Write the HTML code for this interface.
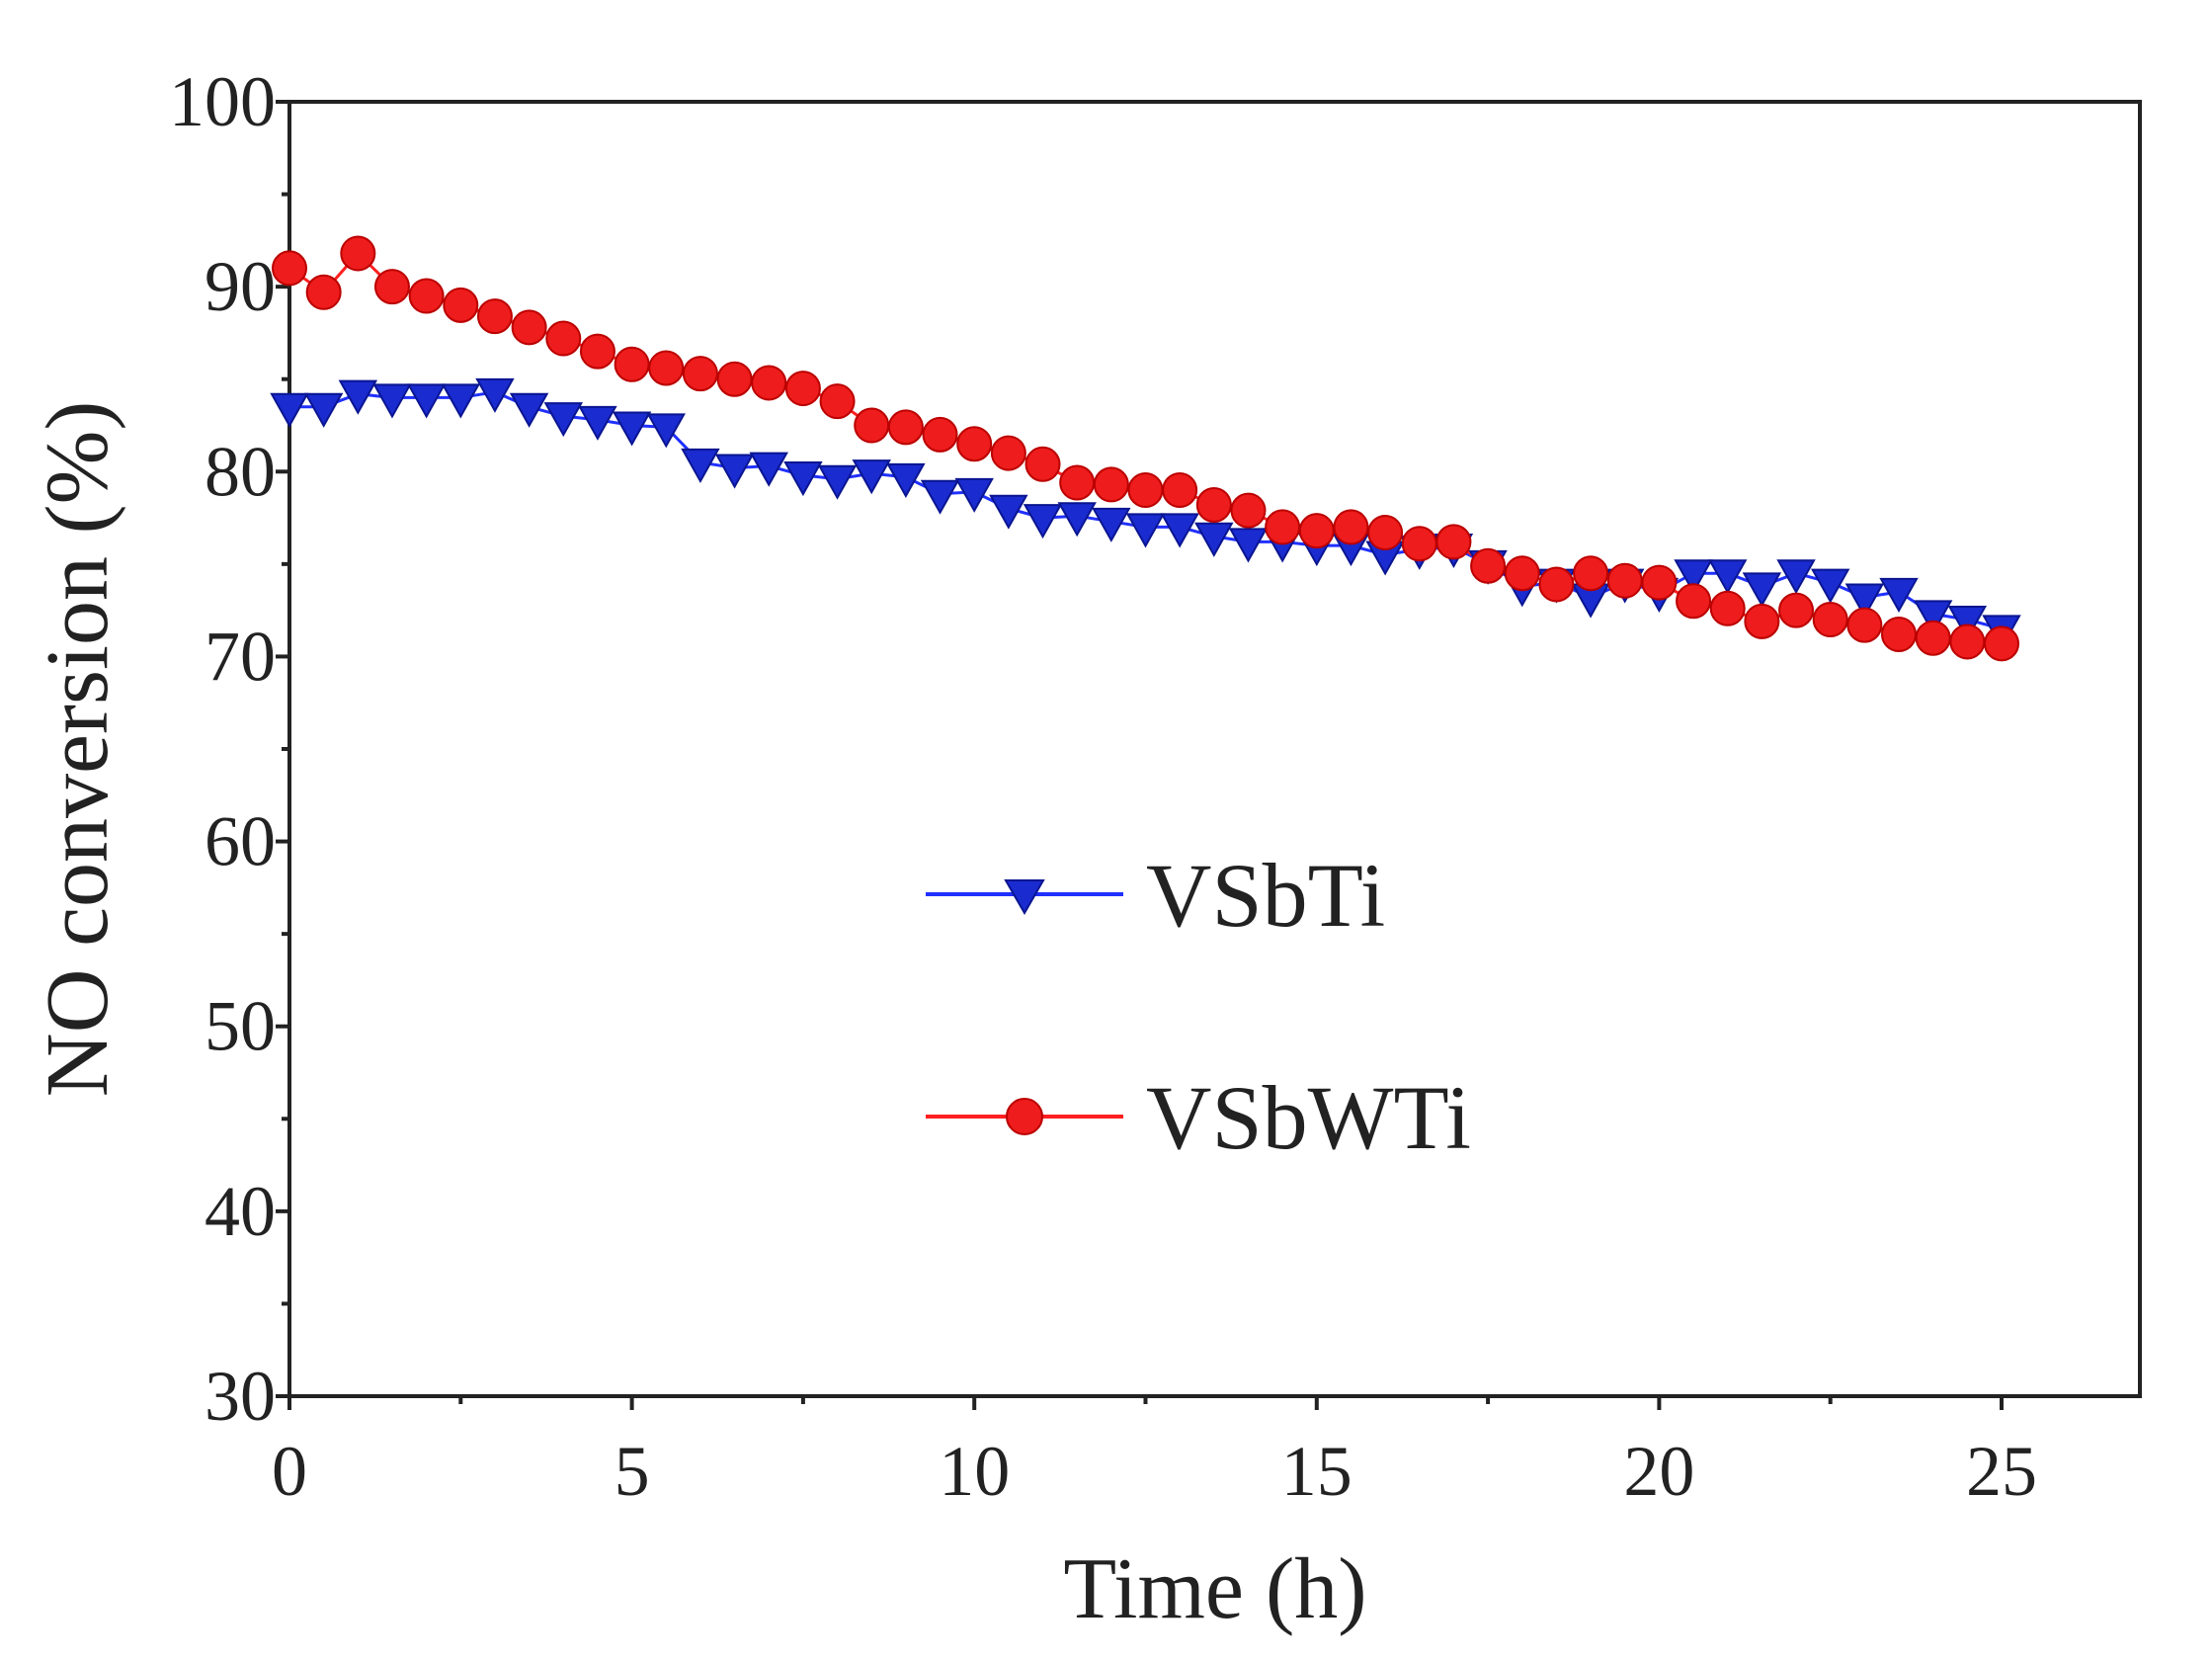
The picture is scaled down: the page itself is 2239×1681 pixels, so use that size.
<!DOCTYPE html>
<html><head><meta charset="utf-8"><style>
html,body{margin:0;padding:0;background:#fff;}
svg text{font-family:"Liberation Serif",serif;fill:#222;}
</style></head><body>
<svg id="chart" width="2239" height="1676" xmlns="http://www.w3.org/2000/svg">
<g id="axes"></g><g id="series"></g>
<g>
<line x1="937" y1="905" x2="1137" y2="905" stroke="#2030ff" stroke-width="4"/>
<path d="M1018,891 L1056,891 L1037,924 Z" fill="#1a2bd0" stroke="#0a1590" stroke-width="2"/>
<text x="1160" y="937" font-size="92">VSbTi</text>
<line x1="937" y1="1130" x2="1137" y2="1130" stroke="#ff2020" stroke-width="4"/>
<circle cx="1037" cy="1130" r="18" fill="#ee1c1c" stroke="#b00" stroke-width="2"/>
<text x="1160" y="1162" font-size="92">VSbWTi</text>
</g>
<text x="0" y="0" font-size="90" text-anchor="middle" transform="translate(108,758) rotate(-90)">NO conversion (%)</text>
<text x="1230" y="1637" font-size="88" text-anchor="middle">Time (h)</text>
</svg>
<script>
const times=[];for(let i=0;i<=50;i++)times.push(i*0.5);
const vsbti=[83.5,83.5,84.2,84,84,84,84.3,83.5,83,82.8,82.5,82.4,80.5,80.2,80.3,79.8,79.6,79.9,79.7,78.8,78.9,78,77.5,77.6,77.3,77,77,76.5,76.2,76.2,76,76,75.5,75.8,75.9,75,73.8,74,73.2,74,73.5,74.5,74.5,73.8,74.5,74,73.2,73.5,72.3,72,71.5];
const vsbwti=[91,89.7,91.8,90,89.5,89,88.4,87.8,87.2,86.5,85.8,85.6,85.3,85,84.8,84.5,83.8,82.5,82.4,82,81.5,81,80.4,79.4,79.3,79,79,78.2,77.9,77,76.8,77,76.7,76.1,76.2,74.9,74.5,73.9,74.5,74.1,74,73,72.6,71.9,72.5,72,71.7,71.2,71,70.8,70.7];
const xTicks=[0,5,10,15,20,25];
const yTicks=[30,40,50,60,70,80,90,100];
const L=293,R=2166,T=103,B=1413;
const xs=v=>L+v*(2026-L)/25;
const ys=v=>B-(v-30)*(B-T)/70;
const NS='http://www.w3.org/2000/svg';
function mk(tag,attrs,parent){const e=document.createElementNS(NS,tag);for(const k in attrs)e.setAttribute(k,attrs[k]);parent.appendChild(e);return e;}
const ax=document.getElementById('axes'),se=document.getElementById('series');
const frame=mk('rect',{x:L,y:T,width:R-L,height:B-T,fill:'none',stroke:'#222','stroke-width':4},ax);


for(let v=30;v<=100;v+=5){const maj=v%10===0;mk('line',{x1:L,y1:ys(v),x2:L-(maj?14:8),y2:ys(v),stroke:'#222','stroke-width':4},ax);}
for(let v=0;v<=25;v+=2.5){const maj=v%5===0;mk('line',{x1:xs(v),y1:B,x2:xs(v),y2:B+(maj?14:8),stroke:'#222','stroke-width':4},ax);}
yTicks.forEach(v=>{const t=mk('text',{x:L-14,y:ys(v)+24,'font-size':72,'text-anchor':'end'},ax);t.textContent=v;

});
xTicks.forEach(v=>{const t=mk('text',{x:xs(v),y:B+100,'font-size':72,'text-anchor':'middle'},ax);t.textContent=v;

});
function line(vals,col,name){const p=mk('polyline',{points:vals.map((v,i)=>xs(times[i])+','+ys(v)).join(' '),fill:'none',stroke:col,'stroke-width':3},se);

}
line(vsbti,'#2030ff','vsbti-line');
line(vsbwti,'#ff2020','vsbwti-line');
vsbti.forEach((v,i)=>{const x=xs(times[i]),y=ys(v);const m=mk('path',{d:`M${x-18},${y-13} L${x+18},${y-13} L${x},${y+19} Z`,fill:'#1a2bd0',stroke:'#0a1590','stroke-width':2},se);

});
vsbwti.forEach((v,i)=>{const m=mk('circle',{cx:xs(times[i]),cy:ys(v),r:17,fill:'#ee1c1c',stroke:'#b00','stroke-width':2},se);

});
</script>
</body></html>
